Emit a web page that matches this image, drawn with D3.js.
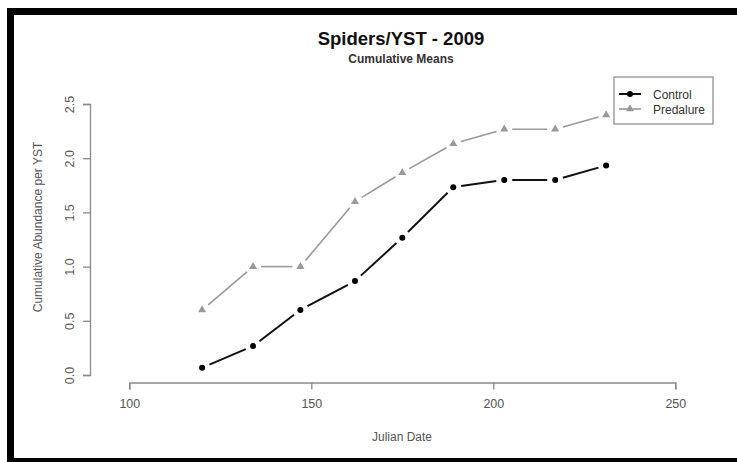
<!DOCTYPE html>
<html>
<head>
<meta charset="utf-8">
<script src="https://cdn.jsdelivr.net/npm/d3@7"></script>
<style>
  body { margin: 0; background: white; }
  text { font-family: "Liberation Sans", Arial, sans-serif; }
</style>
</head>
<body>
<div id="canvas"></div>
<script>
"use strict"

let drawingWidth = 737;
let drawingHeight = 462;

// data
let julianDates = [120, 134, 147, 162, 175, 189, 203, 217, 231];
let controlMeans = [0.067, 0.267, 0.6, 0.867, 1.267, 1.733, 1.8, 1.8, 1.933];
let predalureMeans = [0.6, 1.0, 1.0, 1.6, 1.867, 2.133, 2.267, 2.267, 2.4];
let xTicks = [100, 150, 200, 250];
let yTicks = [0, 0.5, 1, 1.5, 2, 2.5];

let drawing = d3.select("#canvas")
    .append("svg")
    .attr("width", drawingWidth)
    .attr("height", drawingHeight);

drawing.append("rect")
    .attr("width", drawingWidth)
    .attr("height", drawingHeight)
    .attr("fill", "white");

// black frame (top, left, bottom)
drawing.append("rect").attr("x", 7).attr("y", 8).attr("width", 730).attr("height", 7).attr("fill", "black");
drawing.append("rect").attr("x", 7).attr("y", 8).attr("width", 7).attr("height", 454).attr("fill", "black");
drawing.append("rect").attr("x", 7).attr("y", 458).attr("width", 730).attr("height", 4).attr("fill", "black");

let x = d3.scaleLinear().domain([100, 250]).range([129.3, 675.3]);
let y = d3.scaleLinear().domain([0, 2.5]).range([375, 104]);

let axisColor = "#8a8a8a";
let textColor = "#555";

// x axis
let xAxis = drawing.append("g")
    .attr("transform", "translate(0,382.5)")
    .call(d3.axisBottom(x).tickValues(xTicks).tickSize(7).tickPadding(10).tickFormat(d3.format("d")));
xAxis.select(".domain").attr("stroke", axisColor).attr("stroke-width", 1.3);
xAxis.selectAll(".tick line").attr("stroke", axisColor).attr("stroke-width", 1.3);
xAxis.selectAll(".tick text").attr("fill", textColor).attr("font-size", 12.5)
    .style("font-family", "'Liberation Sans', Arial, sans-serif");

// y axis
let yAxis = drawing.append("g")
    .attr("transform", "translate(90,0)")
    .call(d3.axisLeft(y).tickValues(yTicks).tickSize(7).tickFormat(d3.format(".1f")));
yAxis.select(".domain").attr("stroke", axisColor).attr("stroke-width", 1.3);
yAxis.selectAll(".tick line").attr("stroke", axisColor).attr("stroke-width", 1.3);
yAxis.selectAll(".tick text")
    .attr("fill", textColor).attr("font-size", 12.5)
    .attr("x", 0).attr("y", 0).attr("dy", null)
    .attr("text-anchor", "middle")
    .attr("transform", "translate(-16,0) rotate(-90)")
    .style("font-family", "'Liberation Sans', Arial, sans-serif");

// titles
drawing.append("text")
    .attr("x", 401).attr("y", 45)
    .attr("text-anchor", "middle")
    .attr("font-size", 18.5).attr("font-weight", "bold")
    .attr("fill", "#111")
    .text("Spiders/YST - 2009");

drawing.append("text")
    .attr("x", 401).attr("y", 63)
    .attr("text-anchor", "middle")
    .attr("font-size", 12).attr("font-weight", "bold")
    .attr("fill", "#333")
    .text("Cumulative Means");

drawing.append("text")
    .attr("x", 402).attr("y", 441)
    .attr("text-anchor", "middle")
    .attr("font-size", 12).attr("fill", textColor)
    .text("Julian Date");

drawing.append("text")
    .attr("transform", "translate(42,227) rotate(-90)")
    .attr("text-anchor", "middle")
    .attr("font-size", 12).attr("fill", textColor)
    .text("Cumulative Abundance per YST");

// lines with gaps around points (R type "b")
function gappedSegments(xs, ys, gap) {
    let segs = [];
    for (let i = 0; i < xs.length - 1; i++) {
        let x1 = x(xs[i]), y1 = y(ys[i]), x2 = x(xs[i + 1]), y2 = y(ys[i + 1]);
        let len = Math.hypot(x2 - x1, y2 - y1);
        let ux = (x2 - x1) / len, uy = (y2 - y1) / len;
        segs.push({x1: x1 + ux * gap, y1: y1 + uy * gap, x2: x2 - ux * gap, y2: y2 - uy * gap});
    }
    return segs;
}

let controlColor = "#111";
let predColor = "#999";

drawing.append("g").selectAll("line")
    .data(gappedSegments(julianDates, predalureMeans, 8))
    .join("line")
    .attr("x1", d => d.x1).attr("y1", d => d.y1)
    .attr("x2", d => d.x2).attr("y2", d => d.y2)
    .attr("stroke", predColor).attr("stroke-width", 1.6);

let triangle = d3.symbol().type(d3.symbolTriangle).size(28);

drawing.append("g").selectAll("path")
    .data(julianDates)
    .join("path")
    .attr("d", triangle)
    .attr("transform", (d, i) => "translate(" + x(d) + "," + y(predalureMeans[i]) + ")")
    .attr("fill", predColor);

drawing.append("g").selectAll("line")
    .data(gappedSegments(julianDates, controlMeans, 8))
    .join("line")
    .attr("x1", d => d.x1).attr("y1", d => d.y1)
    .attr("x2", d => d.x2).attr("y2", d => d.y2)
    .attr("stroke", controlColor).attr("stroke-width", 2);

drawing.append("g").selectAll("circle")
    .data(julianDates)
    .join("circle")
    .attr("cx", d => x(d))
    .attr("cy", (d, i) => y(controlMeans[i]))
    .attr("r", 3)
    .attr("fill", "black");

// legend
let legend = drawing.append("g");
legend.append("rect")
    .attr("x", 614).attr("y", 77).attr("width", 99).attr("height", 47)
    .attr("fill", "white").attr("stroke", "#888").attr("stroke-width", 1.2);

legend.append("line").attr("x1", 619).attr("x2", 641).attr("y1", 94).attr("y2", 94)
    .attr("stroke", controlColor).attr("stroke-width", 2);
legend.append("circle").attr("cx", 630).attr("cy", 94).attr("r", 3).attr("fill", "black");
legend.append("text").attr("x", 653).attr("y", 98.5)
    .attr("font-size", 12).attr("fill", "#333").text("Control");

legend.append("line").attr("x1", 619).attr("x2", 641).attr("y1", 109).attr("y2", 109)
    .attr("stroke", predColor).attr("stroke-width", 1.6);
legend.append("path").attr("d", triangle)
    .attr("transform", "translate(630,109)").attr("fill", predColor);
legend.append("text").attr("x", 653).attr("y", 113.5)
    .attr("font-size", 12).attr("fill", "#333").text("Predalure");
</script>
</body>
</html>
